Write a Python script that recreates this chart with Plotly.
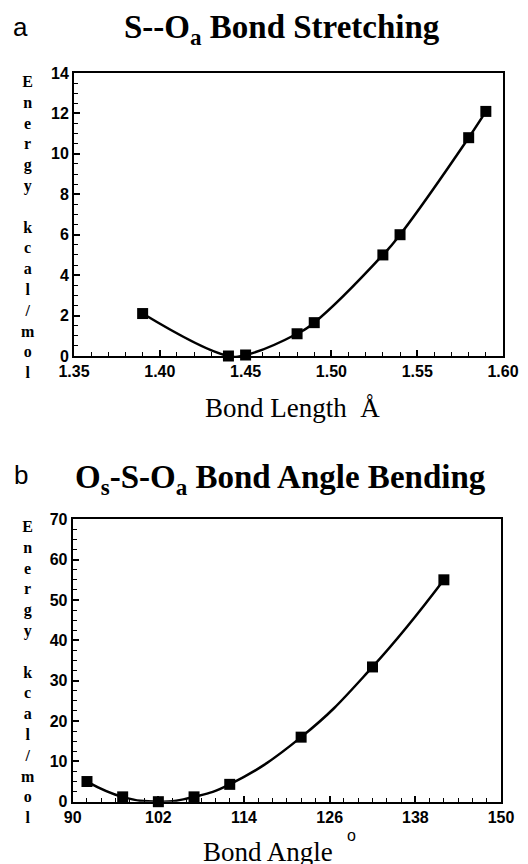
import plotly.graph_objects as go

# ---- data ----
len_x = [1.39, 1.44, 1.45, 1.48, 1.49, 1.53, 1.54, 1.58, 1.59]
len_e = [2.1, 0.0, 0.05, 1.1, 1.65, 5.0, 6.0, 10.8, 12.1]

ang_x = [92, 97, 102, 107, 112, 122, 132, 142]
ang_e = [5.0, 1.2, 0.0, 1.2, 4.3, 16.0, 33.4, 55.0]

len_ticks = [1.35, 1.40, 1.45, 1.50, 1.55, 1.60]
ang_ticks = [90, 102, 114, 126, 138, 150]

W, H = 528, 864
SANS = "Liberation Sans"
SERIF = "Liberation Serif"

fig = go.Figure()

for xs, ys, xa, ya in [(len_x, len_e, "x", "y"), (ang_x, ang_e, "x2", "y2")]:
    fig.add_trace(go.Scatter(x=xs, y=ys, mode="lines", xaxis=xa, yaxis=ya,
                             line=dict(color="black", width=2.5, shape="spline", smoothing=1.3),
                             cliponaxis=False, showlegend=False, hoverinfo="skip"))
    fig.add_trace(go.Scatter(x=xs, y=ys, mode="markers", xaxis=xa, yaxis=ya,
                             marker=dict(symbol="square", size=11, color="black"),
                             cliponaxis=False, showlegend=False))

def px_x(p):
    return p / W

def px_y(p):
    return 1 - p / H

tickfont = dict(family=SANS, size=16, color="black", weight="bold")
common = dict(showgrid=False, zeroline=False, showline=True, linecolor="black", linewidth=2,
              mirror=True, ticks="inside", ticklen=6, tickwidth=1.5, tickcolor="black",
              tickfont=tickfont, automargin=False)

fig.update_layout(
    template="none",
    width=W, height=H,
    margin=dict(l=0, r=0, t=0, b=0, pad=0, autoexpand=False),
    showlegend=False,
    paper_bgcolor="white", plot_bgcolor="white",
    xaxis=dict(domain=[px_x(74), px_x(503)], range=[1.35, 1.60], tickvals=len_ticks,
               tickformat=".2f", anchor="y",
               minor=dict(dtick=0.01, ticklen=4, tickwidth=1.2, tickcolor="black", ticks="inside"),
               **common),
    yaxis=dict(domain=[px_y(356), px_y(73)], range=[0, 14], dtick=2, anchor="x",
               minor=dict(dtick=0.5, ticklen=4, tickwidth=1.2, tickcolor="black", ticks="inside"),
               **common),
    xaxis2=dict(domain=[px_x(72.7), px_x(501)], range=[90, 150], tickvals=ang_ticks, anchor="y2",
                minor=dict(dtick=2, ticklen=4, tickwidth=1.2, tickcolor="black", ticks="inside"),
                **common),
    yaxis2=dict(domain=[px_y(801.7), px_y(519.3)], range=[0, 70], dtick=10, anchor="x2",
                minor=dict(dtick=2.5, ticklen=4, tickwidth=1.2, tickcolor="black", ticks="inside"),
                **common),
)

ylabel = "<br>".join(list("Energy") + ["\u00a0"] + list("kcal/mol"))

ann = [
    dict(text="a", x=px_x(20), y=px_y(27), font=dict(family=SANS, size=26, color="black")),
    dict(text="<b>S--O<sub>a</sub> Bond Stretching</b>", x=px_x(282), y=px_y(30),
         font=dict(family=SERIF, size=33, color="black")),
    dict(text="Bond Length\u00a0\u00a0Å", x=px_x(292), y=px_y(408),
         font=dict(family=SERIF, size=27, color="black")),
    dict(text="<b>" + ylabel + "</b>", x=px_x(28), y=px_y(226.5),
         font=dict(family=SERIF, size=16, color="black")),
    dict(text="b", x=px_x(21), y=px_y(475), font=dict(family=SANS, size=26, color="black")),
    dict(text="<b>O<sub>s</sub>-S-O<sub>a</sub> Bond Angle Bending</b>", x=px_x(280), y=px_y(479),
         font=dict(family=SERIF, size=33, color="black")),
    dict(text="Bond Angle", x=px_x(268), y=px_y(852),
         font=dict(family=SERIF, size=27, color="black")),
    dict(text="o", x=px_x(351), y=px_y(835),
         font=dict(family=SANS, size=16, color="black")),
    dict(text="<b>" + ylabel + "</b>", x=px_x(28), y=px_y(671.7),
         font=dict(family=SERIF, size=16, color="black")),
]
for a in ann:
    a.update(xref="paper", yref="paper", xanchor="center", yanchor="middle", showarrow=False)
fig.update_layout(annotations=ann)

fig.write_html("out.html",
               config={"displayModeBar": False},
               post_script="document.body.style.margin='0';document.body.style.padding='0';")
